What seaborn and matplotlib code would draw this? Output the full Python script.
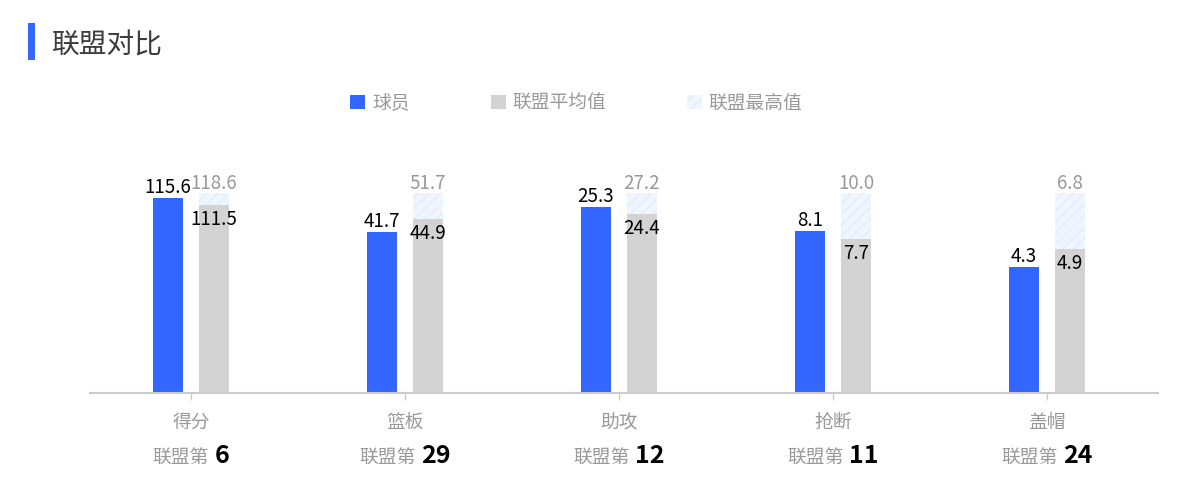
import matplotlib
matplotlib.use("Agg")
import matplotlib.pyplot as plt
import matplotlib.patches as mpatches
import matplotlib.transforms as mtransforms
import pandas as pd
import seaborn as sns

# ---- data ----
categories = ["得分", "篮板", "助攻", "抢断", "盖帽"]
player_vals = [115.6, 41.7, 25.3, 8.1, 4.3]
league_avg = [111.5, 44.9, 24.4, 7.7, 4.9]
league_max = [118.6, 51.7, 27.2, 10.0, 6.8]
league_rank = [6, 29, 12, 11, 24]
series_names = ["球员", "联盟平均值", "联盟最高值"]

BLUE = "#3366ff"
GRAY = "#d3d3d3"
HATCH_FACE = "#f0f6ff"
HATCH_LINE = "#e1ecfc"
TXT_GRAY = "#999999"

sns.set_theme(style="white")
plt.rcParams["font.family"] = ["Noto Sans CJK SC", "DejaVu Sans"]
plt.rcParams["hatch.linewidth"] = 1.0

# bars are scaled per category against the league max
rows = []
for c, p, a, m in zip(categories, player_vals, league_avg, league_max):
    rows.append({"cat": c, "series": series_names[0], "slot": series_names[0], "value": p, "height": p / m})
    rows.append({"cat": c, "series": series_names[1], "slot": series_names[1], "value": a, "height": a / m})
    rows.append({"cat": c, "series": series_names[2], "slot": series_names[1], "value": m, "height": m / m})
df = pd.DataFrame(rows)
slots = series_names[:2]

W, H, DPI = 1193, 494, 100
fig = plt.figure(figsize=(W / DPI, H / DPI), dpi=DPI)
ax = fig.add_axes([90 / W, (H - 393) / H, (1158 - 90) / W, 240 / H])

# league max drawn first, behind the average bar
max_df = df[df["series"] == series_names[2]]
sns.barplot(data=max_df, x="cat", y="height", hue="slot", hue_order=slots,
            order=categories, palette={s: HATCH_FACE for s in slots},
            saturation=1, width=0.43, gap=0.33, dodge=True, errorbar=None,
            legend=False, hatch="///", edgecolor=HATCH_LINE, linewidth=0, ax=ax)
n_max = len(ax.containers)

main_df = df[df["series"] != series_names[2]]
sns.barplot(data=main_df, x="cat", y="height", hue="slot", hue_order=slots,
            order=categories, palette={slots[0]: BLUE, slots[1]: GRAY},
            saturation=1, width=0.43, gap=0.33, dodge=True, errorbar=None,
            legend=False, linewidth=0, ax=ax)

max_bars = [c for c in ax.containers[:n_max] if len(c)][0]
player_bars, avg_bars = [c for c in ax.containers[n_max:] if len(c)][:2]

ax.set_xlim(-0.472, 4.519)
ax.set_ylim(0, 1.2)
ax.set_xlabel("")
ax.set_ylabel("")
ax.set_yticks([])
ax.set_xticks(range(len(categories)))
ax.set_xticklabels([])
for side in ["top", "right", "left"]:
    ax.spines[side].set_visible(False)
ax.spines["bottom"].set_color("#cccccc")
ax.spines["bottom"].set_linewidth(1.5)
ax.tick_params(axis="x", bottom=True, length=5, width=1, color="#cccccc", direction="out")

# value labels
pt = 72 / DPI


def label_bars(bars, vals, dy, color):
    for bar, v in zip(bars, vals):
        ax.annotate(f"{v:.1f}", (bar.get_x() + bar.get_width() / 2, bar.get_height()),
                    xytext=(0, dy * pt), textcoords="offset points", ha="center",
                    va="baseline", fontsize=13.5, color=color)


label_bars(max_bars, league_max, 4, TXT_GRAY)
label_bars(player_bars, player_vals, 5, "#000000")
label_bars(avg_bars, league_avg, -20, "#000000")

# category names and league rank rows
trans = mtransforms.blended_transform_factory(ax.transData, ax.transAxes)


def shifted(dx, dy):
    return trans + mtransforms.ScaledTranslation(dx / DPI, dy / DPI, fig.dpi_scale_trans)


pairs = []
for i, (cat, rank) in enumerate(zip(categories, league_rank)):
    ax.text(i, 0, cat, transform=shifted(0, -35), ha="center", va="baseline",
            fontsize=13.5, color=TXT_GRAY)
    pre = ax.text(i, 0, "联盟第", transform=shifted(0, -70), ha="right",
                  va="baseline", fontsize=13.5, color=TXT_GRAY)
    num = ax.text(i, 0, str(rank), transform=shifted(0, -70), ha="left",
                  va="baseline", fontsize=18, fontweight="bold", color="#000000")
    pairs.append((pre, num))

fig.canvas.draw()
renderer = fig.canvas.get_renderer()
gap = 6
for pre, num in pairs:
    w1 = pre.get_window_extent(renderer).width
    w2 = num.get_window_extent(renderer).width
    pre.set_transform(shifted((w1 - gap - w2) / 2, -70))
    num.set_transform(shifted((w1 + gap - w2) / 2, -70))

# title with blue marker
fig.add_artist(mpatches.Rectangle((28 / W, 1 - 60 / H), 7 / W, 37 / H,
                                  transform=fig.transFigure, facecolor=BLUE, edgecolor="none"))
fig.text(52 / W, 1 - 54 / H, "联盟对比", ha="left", va="baseline", fontsize=20, color="#3c3c3c")

# legend
handles = [
    mpatches.Patch(facecolor=BLUE, edgecolor="none", label=series_names[0]),
    mpatches.Patch(facecolor=GRAY, edgecolor="none", label=series_names[1]),
    mpatches.Patch(facecolor=HATCH_FACE, edgecolor=HATCH_LINE, hatch="///",
                   linewidth=0, label=series_names[2]),
]
fig.legend(handles=handles, loc="center", bbox_to_anchor=(576.5 / W, 1 - 103 / H),
           ncol=3, frameon=False, fontsize=13.5, handlelength=0.8, handleheight=0.8,
           handletextpad=0.37, columnspacing=4.3, labelcolor=TXT_GRAY)

fig.savefig("out.png", dpi=DPI)
